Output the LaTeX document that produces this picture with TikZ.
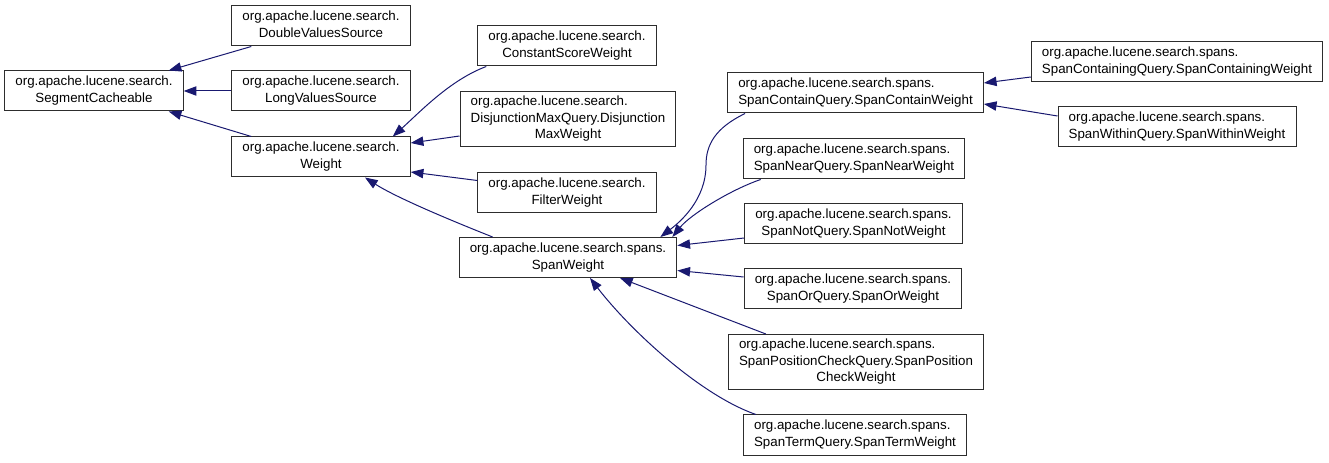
\documentclass[tikz,border=0pt]{standalone}
\usepackage{fontspec}
\setmainfont{Liberation Sans}
\usepackage{xcolor}
\usepackage{tikz}
\usetikzlibrary{arrows.meta,calc}
\definecolor{edgeblue}{RGB}{25, 25, 112}
\definecolor{framegray}{RGB}{45, 45, 45}
% left-justified upper lines, last line centred
\newcommand{\dxlabel}[2]{\begin{tabular}{@{}l@{}}#1\\\multicolumn{1}{@{}c@{}}{#2}\end{tabular}}

\begin{document}
\begin{tikzpicture}[
  x=0.75pt, y=-0.75pt,
  classbox/.style={rectangle, draw=framegray, fill=white, line width=0.75pt, inner xsep=8pt, inner ysep=0pt, minimum height=30pt, font=\fontsize{10}{12.5}\selectfont},
  tallbox/.style={classbox, minimum height=41.25pt},
  arrow/.style={-{Triangle[length=9.5pt,width=7pt]}, line width=0.75pt, color=edgeblue}
]
\useasboundingbox (0,0) rectangle (1329,463);

% first column
\node[classbox] (sc) at (94,91) {\dxlabel{org.apache.lucene.search.}{SegmentCacheable}};
% second column
\node[classbox] (dvs) at (321,26) {\dxlabel{org.apache.lucene.search.}{DoubleValuesSource}};
\node[classbox] (lvs) at (321,91) {\dxlabel{org.apache.lucene.search.}{LongValuesSource}};
\node[classbox] (w) at (321,157) {\dxlabel{org.apache.lucene.search.}{Weight}};
% third column
\node[classbox] (csw) at (567,46) {\dxlabel{org.apache.lucene.search.}{ConstantScoreWeight}};
\node[tallbox] (dmw) at (568,119) {\dxlabel{org.apache.lucene.search.\\DisjunctionMaxQuery.Disjunction}{MaxWeight}};
\node[classbox] (fw) at (567,192.5) {\dxlabel{org.apache.lucene.search.}{FilterWeight}};
\node[classbox] (sw) at (568,257.5) {\dxlabel{org.apache.lucene.search.spans.}{SpanWeight}};
% fourth column
\node[classbox] (scw) at (855.5,93) {\dxlabel{org.apache.lucene.search.spans.}{SpanContainQuery.SpanContainWeight}};
\node[classbox] (snw) at (854,159) {\dxlabel{org.apache.lucene.search.spans.}{SpanNearQuery.SpanNearWeight}};
\node[classbox] (snotw) at (853.5,224) {\dxlabel{org.apache.lucene.search.spans.}{SpanNotQuery.SpanNotWeight}};
\node[classbox] (sow) at (853,289) {\dxlabel{org.apache.lucene.search.spans.}{SpanOrQuery.SpanOrWeight}};
\node[tallbox] (spcw) at (856,362) {\dxlabel{org.apache.lucene.search.spans.\\SpanPositionCheckQuery.SpanPosition}{CheckWeight}};
\node[classbox] (stw) at (855,435) {\dxlabel{org.apache.lucene.search.spans.}{SpanTermQuery.SpanTermWeight}};
% fifth column
\node[classbox] (scgw) at (1177,62) {\dxlabel{org.apache.lucene.search.spans.}{SpanContainingQuery.SpanContainingWeight}};
\node[classbox] (swiw) at (1177,127) {\dxlabel{org.apache.lucene.search.spans.}{SpanWithinQuery.SpanWithinWeight}};

% inheritance edges
\draw[arrow] ($(dvs.south west)+(20,0)$) -- ($(sc.north east)+(-15,0)$);
\draw[arrow] (lvs.west) -- (sc.east);
\draw[arrow] ($(w.north west)+(20,0)$) -- ($(sc.south east)+(-15,0)$);

\draw[arrow] ($(csw.south west)+(9,0)$) .. controls (450,80) and (420,112) .. ($(w.north east)+(-18,0)$);
\draw[arrow] ($(dmw.west)+(0,17)$) -- ($(w.east)+(0,-14)$);
\draw[arrow] ($(fw.west)+(0,-12)$) -- ($(w.east)+(0,15)$);
\draw[arrow] ($(sw.north west)+(34,0)$) .. controls (470,228) and (400,200) .. ($(w.south)+(44,0)$);

\draw[arrow] ($(scw.south west)+(18,0)$) .. controls (715,128) and (706,145) .. (706,165) .. controls (706,200) and (680,222) .. ($(sw.north east)+(-17,0)$);
\draw[arrow] ($(snw.south west)+(18,0)$) .. controls (730,190) and (690,215) .. ($(sw.north east)+(-5,0)$);
\draw[arrow] ($(snotw.west)+(0,14)$) -- ($(sw.east)+(0,-12)$);
\draw[arrow] ($(sow.west)+(0,-12)$) -- ($(sw.east)+(0,13)$);
\draw[arrow] ($(spcw.north west)+(38,0)$) -- ($(sw.south)+(52,0)$);
\draw[arrow] ($(stw.north west)+(13,0)$) .. controls (700,395) and (630,330) .. ($(sw.south)+(22,0)$);

\draw[arrow] ($(scgw.west)+(0,15)$) -- ($(scw.east)+(0,-10)$);
\draw[arrow] ($(swiw.west)+(0,-11)$) -- ($(scw.east)+(0,11)$);
\end{tikzpicture}
\end{document}
